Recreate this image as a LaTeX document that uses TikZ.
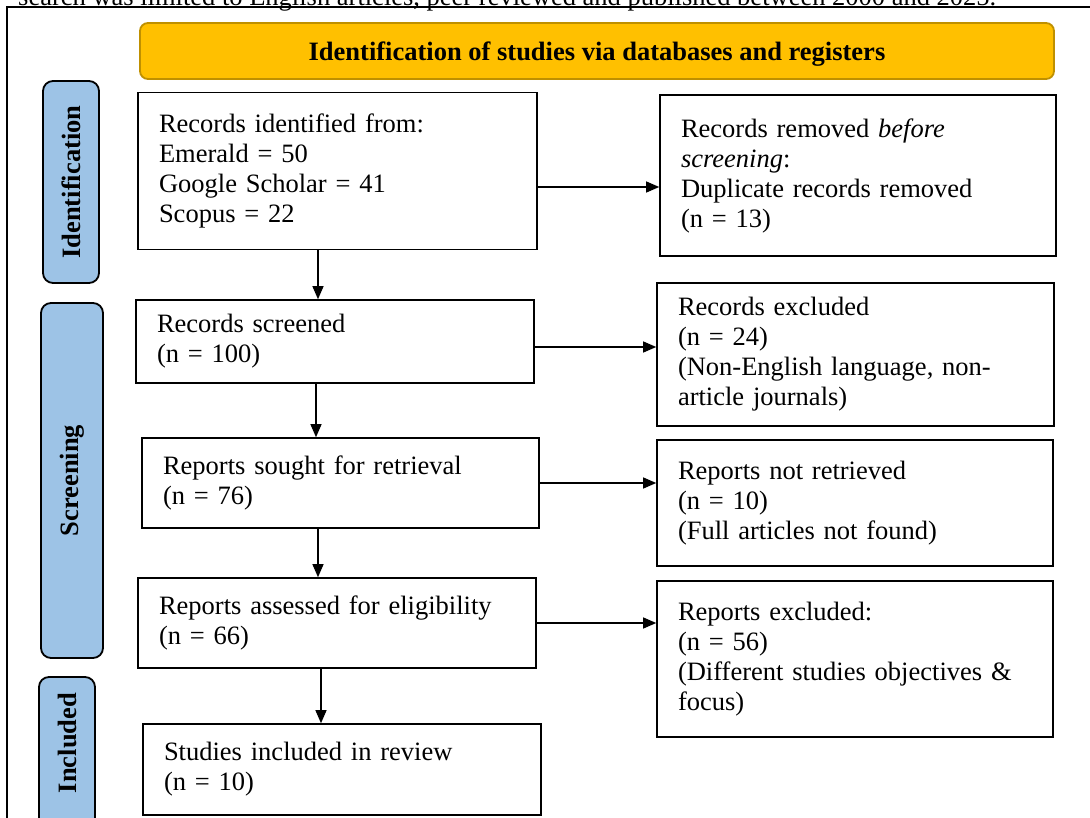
\documentclass[tikz,border=0pt]{standalone}
\usepackage{fontspec}
\setmainfont{Liberation Serif}
\usetikzlibrary{arrows.meta}
\definecolor{bannerfill}{HTML}{FFC000}
\definecolor{bannerdraw}{HTML}{BF9000}
\definecolor{sidefill}{HTML}{9DC3E6}
\newcommand{\fs}{\fontsize{26.5}{30}\selectfont}
\begin{document}
\begin{tikzpicture}[x=1pt,y=-1pt,
  pbox/.style={draw, line width=1.6pt, inner xsep=21pt, inner ysep=0pt, align=left, font=\fs, anchor=center},
  sidelab/.style={draw=black, fill=sidefill, line width=1.8pt, rounded corners=10pt, rotate=90, font=\fs\bfseries, inner sep=0pt},
  arr/.style={line width=1.2pt, -{Triangle[length=13pt,width=11pt]}},
]
\useasboundingbox (0,0) rectangle (1090,817);
\clip (0,0) rectangle (1090,817);
% cut-off caption line and outer frame
\node[anchor=base west, font=\fs, inner sep=0pt] (cap) at (18,5) {search was limited to English articles, peer reviewed and published between 2000 and 2025.};
\draw[line width=1.8pt] (7,840) -- (7,7) -- (1100,7);
% banner
\node[draw=bannerdraw, fill=bannerfill, line width=1.8pt, rounded corners=8pt, minimum width=914pt, minimum height=56pt, inner sep=0pt, text depth=0pt, font=\fs\bfseries] (ban) at (597,51) {Identification of studies via databases and registers};
% side labels
\node[sidelab, minimum width=202pt, minimum height=56pt] (lid) at (71,182) {Identification};
\node[sidelab, minimum width=355pt, minimum height=62pt] (lscr) at (72,480.5) {Screening};
\node[sidelab, minimum width=170pt, minimum height=56pt] (linc) at (67,762) {};
\node[font=\fs\bfseries, rotate=90, inner sep=0pt] (linct) at (67,743) {Included};
% boxes
\node[pbox, text width=357pt, minimum height=157pt] (id) at (337.5,171) {Records identified from:\\Emerald = 50\\Google Scholar = 41\\Scopus = 22};
\node[pbox, text width=354pt, minimum height=161pt] (rem) at (858,175.5) {Records removed \textit{before}\\\textit{screening}:\\Duplicate records removed\\(n = 13)};
\node[pbox, text width=356pt, minimum height=83pt] (scr) at (335,341.5) {Records screened\\(n = 100)};
\node[pbox, text width=355pt, minimum height=143pt] (exc) at (855.5,354.5) {Records excluded\\(n = 24)\\(Non-English language, non-\\article journals)};
\node[pbox, text width=355pt, minimum height=90pt] (sou) at (340.5,483) {Reports sought for retrieval\\(n = 76)};
\node[pbox, text width=354pt, minimum height=126pt] (nr) at (855,503) {Reports not retrieved\\(n = 10)\\(Full articles not found)};
\node[pbox, text width=356pt, minimum height=90pt] (ass) at (337,623) {Reports assessed for eligibility\\(n = 66)};
\node[pbox, text width=354pt, minimum height=156pt] (rex) at (855,659) {Reports excluded:\\(n = 56)\\(Different studies objectives \&\\focus)};
\node[pbox, text width=356pt, minimum height=91pt] (inc) at (342,769.5) {Studies included in review\\(n = 10)};
% horizontal arrows
\draw[arr] ([yshift=-16pt]id.east) -- ([yshift=-16pt]id.east -| rem.west);
\draw[arr] ([yshift=-5.5pt]scr.east) -- ([yshift=-5.5pt]scr.east -| exc.west);
\draw[arr] (sou.east) -- (sou.east -| nr.west);
\draw[arr] (ass.east) -- (ass.east -| rex.west);
% vertical arrows
\draw[arr] ([xshift=-19.5pt]id.south) -- ([xshift=-19.5pt]id.south |- scr.north);
\draw[arr] ([xshift=-19pt]scr.south) -- ([xshift=-19pt]scr.south |- sou.north);
\draw[arr] ([xshift=-22.5pt]sou.south) -- ([xshift=-22.5pt]sou.south |- ass.north);
\draw[arr] ([xshift=-16pt]ass.south) -- ([xshift=-16pt]ass.south |- inc.north);
\end{tikzpicture}
\end{document}
